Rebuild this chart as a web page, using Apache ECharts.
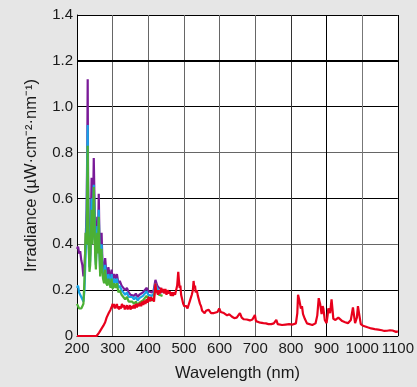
<!DOCTYPE html>
<html>
<head>
<meta charset="utf-8">
<script src="https://cdn.jsdelivr.net/npm/echarts@6/dist/echarts.min.js"></script>
<style>
  html, body { margin: 0; padding: 0; background: #e6e6e6; }
  #chart { width: 417px; height: 387px; }
</style>
</head>
<body>
<div id="chart"></div>
<script>
// Axis ticks
const xTicks = [200, 300, 400, 500, 600, 700, 800, 900, 1000, 1100];
const yTicks = [0, 0.2, 0.4, 0.6, 0.8, 1.0, 1.2, 1.4];

// UV region sampled wavelengths (nm) shared by the three lamp spectra
const uvWavelength = [200,203,206,209,212,215,218,221,224,227,
  229,230,231,233,235,237,239,241,243,245,
  247,249,251,253,255,257,259,261,263,265,
  267,269,271,273,276,279,282,285,288,291,
  294,297,300,304,308,312,316,320,325,330,
  335,340,345,350,355,360,365,370,375,380,
  385,390,395,400,405,410,415,420,425,430,
  435,440];

const purpleIrr = [0.38,0.39,0.36,0.37,0.33,0.31,0.26,0.30,0.40,0.55,
  0.85,1.12,0.70,0.42,0.32,0.36,0.52,0.69,0.45,0.55,
  0.776,0.60,0.40,0.34,0.45,0.52,0.42,0.62,0.42,0.31,
  0.38,0.45,0.34,0.30,0.27,0.34,0.28,0.26,0.30,0.27,
  0.25,0.29,0.245,0.27,0.25,0.27,0.23,0.24,0.22,0.21,
  0.20,0.21,0.19,0.18,0.185,0.175,0.185,0.17,0.18,0.175,
  0.19,0.20,0.21,0.195,0.20,0.19,0.20,0.245,0.22,0.21,
  0.215,0.20];

const cyanIrr = [0.21,0.22,0.19,0.18,0.17,0.16,0.15,0.20,0.35,0.50,
  0.80,0.92,0.65,0.40,0.30,0.33,0.48,0.60,0.42,0.50,
  0.66,0.55,0.37,0.31,0.42,0.48,0.38,0.55,0.38,0.28,
  0.34,0.40,0.31,0.27,0.25,0.31,0.25,0.24,0.27,0.25,
  0.23,0.27,0.225,0.25,0.23,0.25,0.21,0.22,0.20,0.19,
  0.18,0.19,0.17,0.165,0.17,0.16,0.17,0.155,0.165,0.16,
  0.175,0.185,0.195,0.18,0.185,0.175,0.185,0.23,0.205,0.195,
  0.20,0.19];

const greenIrr = [0.14,0.13,0.12,0.125,0.12,0.13,0.14,0.25,0.45,0.40,
  0.70,0.83,0.60,0.38,0.28,0.31,0.45,0.55,0.40,0.48,
  0.65,0.52,0.35,0.29,0.40,0.45,0.36,0.52,0.36,0.26,
  0.32,0.38,0.29,0.25,0.23,0.29,0.23,0.22,0.25,0.23,
  0.21,0.25,0.205,0.23,0.21,0.23,0.19,0.20,0.18,0.17,
  0.16,0.17,0.15,0.145,0.15,0.14,0.15,0.135,0.145,0.14,
  0.155,0.165,0.175,0.16,0.165,0.155,0.165,0.21,0.19,0.18,
  0.185,0.175];

// Broadband spectrum, [wavelength nm, irradiance]
const redSpectrum = [[200,0],[255,0],[262,0.015],[268,0.03],[274,0.045],[279,0.06],[283,0.08],[289,0.10],[294,0.115],
  [298,0.13],[300,0.14],[302,0.125],[304,0.14],[306,0.12],[308,0.135],[310,0.125],[312,0.14],[314,0.12],[316,0.13],
  [318,0.115],[320,0.13],[323,0.12],[326,0.14],[329,0.125],[332,0.135],[334,0.115],[336,0.13],[338,0.12],[340,0.135],
  [342,0.115],[344,0.13],[346,0.12],[348,0.135],[350,0.115],[353,0.13],[356,0.12],[359,0.135],[362,0.12],[365,0.14],
  [368,0.125],[371,0.14],[374,0.13],[377,0.145],[380,0.13],[383,0.15],[386,0.135],[389,0.155],[392,0.14],[395,0.16],
  [398,0.145],[401,0.17],[404,0.15],[407,0.17],[410,0.155],[413,0.165],[416,0.15],[418,0.19],[420,0.23],[422,0.19],
  [424,0.2],[427,0.18],[430,0.2],[433,0.185],[436,0.21],[439,0.19],[442,0.205],[445,0.185],[448,0.205],[451,0.18],
  [454,0.2],[457,0.185],[460,0.195],[463,0.175],[466,0.19],[469,0.175],[472,0.19],[475,0.18],[478,0.2],[481,0.22],
  [484,0.28],[486,0.24],[488,0.21],[490,0.22],[492,0.18],[495,0.16],[498,0.14],[501,0.13],[504,0.125],[507,0.13],
  [510,0.12],[513,0.135],[516,0.15],[519,0.165],[522,0.18],[525,0.2],[527,0.24],[529,0.21],[531,0.22],[533,0.19],
  [536,0.2],[539,0.175],[542,0.17],[545,0.14],[548,0.13],[551,0.11],[555,0.105],[558,0.1],[562,0.11],[565,0.105],
  [569,0.115],[572,0.11],[576,0.1],[580,0.095],[584,0.1],[588,0.1],[594,0.105],[599,0.12],[603,0.105],[608,0.098],
  [612,0.1],[615,0.094],[621,0.09],[627,0.095],[634,0.085],[641,0.078],[648,0.08],[653,0.085],[657,0.1],[662,0.08],
  [668,0.073],[676,0.072],[685,0.068],[692,0.072],[699,0.092],[702,0.065],[706,0.06],[714,0.058],[723,0.056],[730,0.055],
  [737,0.052],[745,0.052],[752,0.055],[759,0.07],[763,0.052],[767,0.047],[775,0.048],[785,0.05],[795,0.052],[805,0.05],
  [814,0.055],[818,0.1],[820,0.18],[823,0.16],[828,0.12],[831,0.13],[834,0.095],[839,0.075],[845,0.055],[850,0.047],
  [860,0.048],[869,0.055],[874,0.09],[878,0.165],[882,0.14],[886,0.095],[889,0.13],[891,0.12],[895,0.07],[900,0.056],
  [903,0.09],[905,0.12],[910,0.1],[914,0.16],[917,0.11],[919,0.075],[925,0.07],[933,0.08],[938,0.075],[944,0.065],
  [952,0.06],[960,0.056],[968,0.07],[974,0.125],[977,0.09],[980,0.056],[985,0.08],[988,0.13],[992,0.09],[996,0.052],
  [1002,0.045],[1007,0.042],[1015,0.038],[1025,0.033],[1035,0.03],[1045,0.028],[1055,0.025],[1062,0.022],[1070,0.023],[1078,0.025],
  [1081,0.032],[1085,0.024],[1090,0.02],[1095,0.018],[1100,0.02]];

const zip = (xs, ys) => xs.map((x, i) => [x, ys[i]]);

const FONT = '"Liberation Sans", Arial, sans-serif';

const lineSeries = (data, color, width) => ({
  type: 'line',
  data: data,
  showSymbol: false,
  symbol: 'none',
  lineStyle: { color: color, width: width },
  itemStyle: { color: color },
  emphasis: { disabled: true },
  silent: true
});

const chart = echarts.init(document.getElementById('chart'), null, { renderer: 'canvas' });

chart.setOption({
  animation: false,
  backgroundColor: '#e6e6e6',
  grid: { left: 77, right: 13, top: 15, bottom: 47, show: true, backgroundColor: '#ffffff', borderWidth: 0 },
  xAxis: {
    type: 'value',
    min: xTicks[0],
    max: xTicks[xTicks.length - 1],
    interval: 100,
    name: 'Wavelength (nm)',
    nameLocation: 'middle',
    nameGap: 29,
    nameTextStyle: { fontFamily: FONT, fontSize: 16.5, color: '#1a1a1a' },
    axisLine: { show: true, onZero: false, lineStyle: { color: '#000', width: 1 } },
    axisTick: { show: false },
    axisLabel: { fontFamily: FONT, fontSize: 15, color: '#1a1a1a', margin: 5, formatter: v => String(v) },
    splitLine: { show: true, lineStyle: { color: ['#000','#666','#666','#666','#666','#666','#333','#000','#777','#000'], width: 1 } }
  },
  yAxis: {
    type: 'value',
    min: yTicks[0],
    max: yTicks[yTicks.length - 1],
    interval: 0.2,
    name: 'Irradiance (µW·cm⁻²·nm⁻¹)',
    nameLocation: 'middle',
    nameGap: 37,
    nameTextStyle: { fontFamily: FONT, fontSize: 16.5, color: '#1a1a1a' },
    axisLine: { show: true, lineStyle: { color: '#000', width: 1 } },
    axisTick: { show: false },
    axisLabel: {
      fontFamily: FONT, fontSize: 15, color: '#1a1a1a', margin: 4,
      formatter: v => (v === 0 ? '0' : v.toFixed(1))
    },
    splitLine: { show: true, lineStyle: { color: ['#000','#000','#666','#000','#666','#000','#000','#000'], width: 1 } }
  },
  series: [
    Object.assign(lineSeries(zip(uvWavelength, purpleIrr), '#7a1a98', 2.2), {
      markLine: {
        silent: true,
        symbol: 'none',
        label: { show: false },
        lineStyle: { color: '#000', width: 2, type: 'solid' },
        data: [{ yAxis: yTicks[6] }]
      }
    }),
    lineSeries(zip(uvWavelength, cyanIrr), '#18a4e6', 2.2),
    lineSeries(zip(uvWavelength, greenIrr), '#4cb034', 2.2),
    lineSeries(redSpectrum, '#e8001c', 2.2)
  ]
});
</script>
</body>
</html>
